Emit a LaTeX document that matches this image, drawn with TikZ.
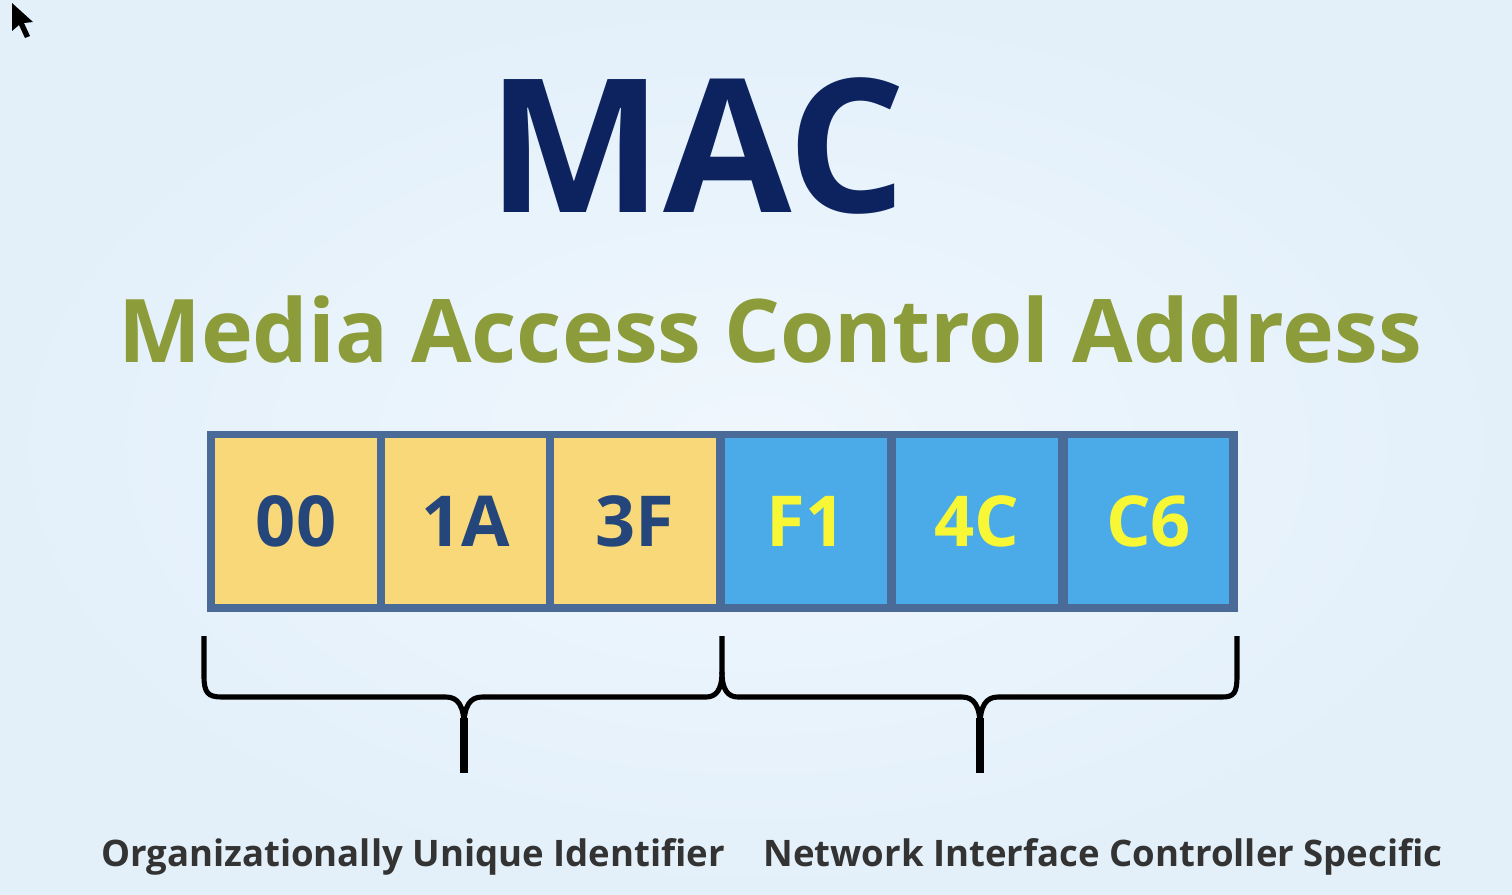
\documentclass[tikz,border=0pt]{standalone}
\usepackage{fontspec}
\setmainfont{Open Sans}
\definecolor{bgin}{HTML}{F0F7FD}
\definecolor{bgout}{HTML}{E3F0FA}
\definecolor{macblue}{HTML}{0C2360}
\definecolor{olive}{HTML}{8C9C3A}
\definecolor{framec}{HTML}{4A6A98}
\definecolor{yel}{HTML}{F8D878}
\definecolor{blu}{HTML}{4BABE8}
\definecolor{navytxt}{HTML}{24467A}
\definecolor{yeltxt}{HTML}{F7F736}
\definecolor{graytxt}{HTML}{333333}
\newcommand\celltxt[1]{\raisebox{-2.3pt}{#1}}
\tikzset{
  cellbox/.style={minimum width=3.24cm, minimum height=3.32cm, inner sep=0pt, font=\fontsize{40}{40}\selectfont\bfseries},
  ycell/.style={cellbox, fill=yel, text=navytxt},
  bcell/.style={cellbox, fill=blu, text=yeltxt},
  bracestroke/.style={draw=black, line width=2.9pt},
  stemstroke/.style={draw=black, line width=4.6pt},
  label/.style={font=\fontsize{20.8}{21}\selectfont\bfseries, text=graytxt, anchor=base, inner sep=0pt}
}
\begin{document}
\begin{tikzpicture}[x=0.02cm,y=-0.02cm]
\useasboundingbox (0,0) rectangle (1512,894);
\shade[inner color=bgin, outer color=bgout] (0,0) rectangle (1512,894);
% cursor
\fill[black] (12,3) -- (12,31) -- (19,25) -- (25,38) -- (30,36) -- (24,23) -- (33,22) -- cycle;
% titles
\node[font=\fontsize{106}{106}\selectfont\bfseries, text=macblue, anchor=base, inner sep=0pt] (mac) at (697,212) {MAC};
\node[font=\fontsize{50}{50}\selectfont\bfseries, text=olive, anchor=base, inner sep=0pt] (sub) at (770,362) {Media Access Control Address};
% frame and cells
\node[fill=framec, minimum width=20.62cm, minimum height=3.62cm, inner sep=0pt] (frame) at (722.5,521.5) {};
\node[ycell] (c1) at (296,521) {\celltxt{00}};
\node[ycell] (c2) at (465.5,521) {\celltxt{1A}};
\node[ycell] (c3) at (635,521) {\celltxt{3F}};
\node[bcell] (c4) at (806,521) {\celltxt{F1}};
\node[bcell] (c5) at (977,521) {\celltxt{4C}};
\node[bcell] (c6) at (1148.5,521) {\celltxt{C6}};
% braces
\draw[bracestroke] (204,636) -- (204,676) .. controls (204,693) and (208,697) .. (222,697) -- (446,697) .. controls (458,697) and (464,706) .. (464,726);
\draw[bracestroke] (464,726) .. controls (464,706) and (470,697) .. (482,697) -- (706,697) .. controls (716,697) and (722,690) .. (722,672) -- (722,636);
\draw[bracestroke] (722,672) .. controls (722,690) and (728,697) .. (738,697) -- (962,697) .. controls (974,697) and (980,706) .. (980,726);
\draw[bracestroke] (980,726) .. controls (980,706) and (986,697) .. (998,697) -- (1222,697) .. controls (1234,697) and (1237,693) .. (1237,676) -- (1237,636);
\draw[stemstroke] (464,718) -- (464,773);
\draw[stemstroke] (980,718) -- (980,773);
% labels
\node[label] (oui) at (413,866) {Organizationally Unique Identifier};
\node[label] (nic) at (1103,866) {Network Interface Controller Specific};
\end{tikzpicture}
\end{document}
